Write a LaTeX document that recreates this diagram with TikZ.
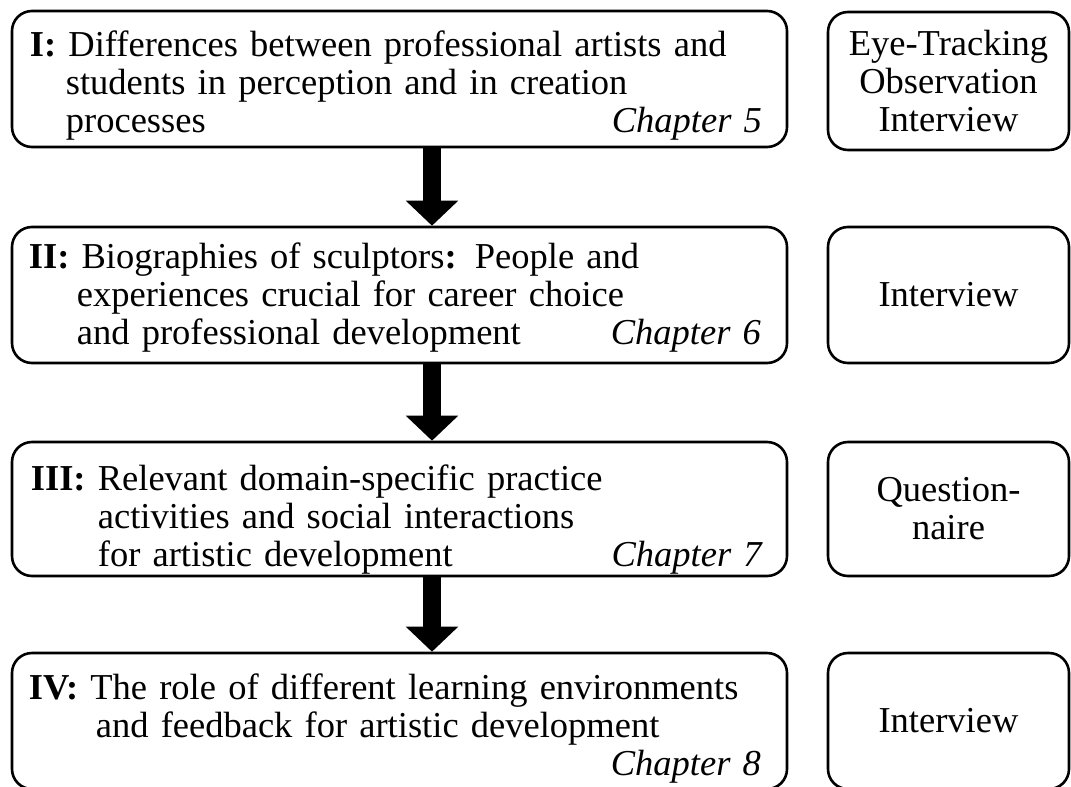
\documentclass[tikz,border=0pt]{standalone}
\usepackage{fontspec}
\setmainfont{Liberation Serif}
\usetikzlibrary{arrows.meta}
\begin{document}
\begin{tikzpicture}[x=1pt,y=-1pt,
  stagebox/.style={draw, line width=2.6pt, rounded corners=20pt,
    minimum width=775pt, inner sep=0pt},
  methodbox/.style={draw, line width=2.6pt, rounded corners=20pt,
    minimum width=241pt, inner sep=0pt, align=center,
    font=\fontsize{36.5}{38}\selectfont},
  stagetext/.style={anchor=west, inner sep=0pt, text width=732pt,
    font=\fontsize{36.5}{38}\selectfont},
  flow/.style={line width=18pt, -{Triangle[width=51pt,length=25pt]}}
]
\useasboundingbox (0,0) rectangle (1071,787);

% study stages (left column)
\node[stagebox, minimum height=136pt] (s1) at (399.5,79) {};
\node[stagebox, minimum height=136pt] (s2) at (399.5,295) {};
\node[stagebox, minimum height=134pt] (s3) at (399.5,509) {};
\node[stagebox, minimum height=136pt] (s4) at (399.5,721) {};

% methods (right column)
\node[methodbox, minimum height=138pt] (m1) at (948.5,81)
  {Eye-Tracking\\Observation\\Interview};
\node[methodbox, minimum height=136pt] (m2) at (948.5,295) {Interview};
\node[methodbox, minimum height=134pt] (m3) at (948.5,509) {Question-\\naire};
\node[methodbox, minimum height=136pt] (m4) at (948.5,721) {Interview};

% stage descriptions, continuation lines indented past the label
\node[stagetext] (t1) at ([xshift=19pt,yshift=-7pt]s1.west)
  {\textbf{I:} Differences between professional artists and\\
   \hspace*{36pt}students in perception and in creation\\
   \hspace*{36pt}processes\hfill\textit{Chapter 5}};
\node[stagetext] (t2) at ([xshift=18pt,yshift=-3pt]s2.west)
  {\textbf{II:} Biographies of sculptors\textbf{:} People and\\
   \hspace*{48pt}experiences crucial for career choice\\
   \hspace*{48pt}and professional development\hfill\textit{Chapter 6}};
\node[stagetext] (t3) at ([xshift=20pt,yshift=-11pt]s3.west)
  {\textbf{III:} Relevant domain-specific practice\\
   \hspace*{67pt}activities and social interactions\\
   \hspace*{67pt}for artistic development\hfill\textit{Chapter 7}};
\node[stagetext] (t4) at ([xshift=18pt,yshift=-8pt]s4.west)
  {\textbf{IV:} The role of different learning environments\\
   \hspace*{67pt}and feedback for artistic development\\
   \hspace*{\fill}\textit{Chapter 8}};

% flow between stages
\coordinate (axis) at (432,0);
\draw[flow] (s1.south -| axis) -- (s2.north -| axis);
\draw[flow] (s2.south -| axis) -- (s3.north -| axis);
\draw[flow] (s3.south -| axis) -- (s4.north -| axis);
\end{tikzpicture}
\end{document}
